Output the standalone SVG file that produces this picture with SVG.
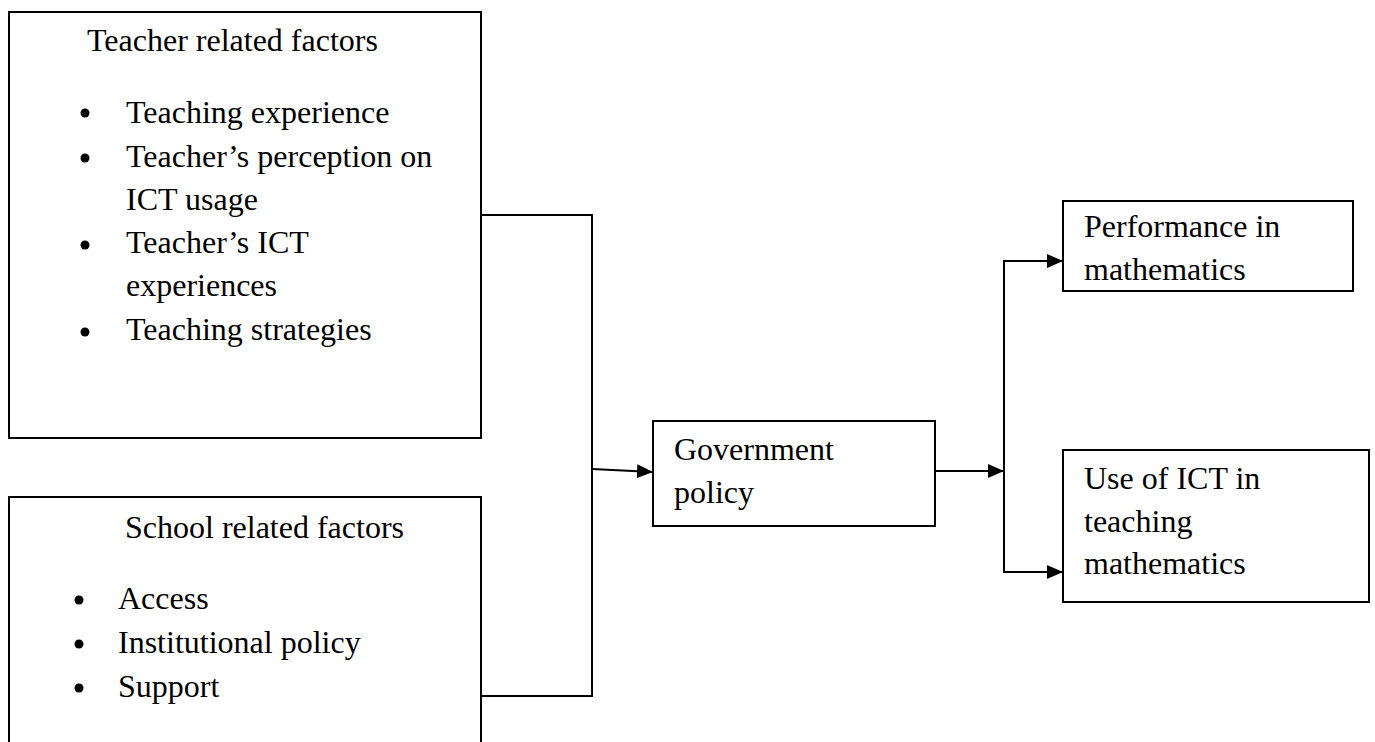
<svg xmlns="http://www.w3.org/2000/svg" width="1375" height="742" viewBox="0 0 1375 742">
<style>
.box{fill:#fff;stroke:#000;stroke-width:2}
.t{font-family:"Liberation Serif","Times New Roman",serif;font-size:32px;fill:#000}
.c{fill:none;stroke:#000;stroke-width:2}
</style>
<defs>
<marker id="ah" markerUnits="userSpaceOnUse" markerWidth="18" markerHeight="16" refX="16" refY="7" orient="auto">
<path d="M0,0 L16,7 L0,14 Z" fill="#000"/>
</marker>
</defs>
<rect width="1375" height="742" fill="#fff"/>
<g id="teacher">
<rect class="box" x="9" y="12" width="472" height="426"/>
<text class="t" x="87" y="51">Teacher related factors</text>
<circle cx="85" cy="113" r="4.5"/><text class="t" x="126" y="123">Teaching experience</text>
<circle cx="85" cy="158" r="4.5"/><text class="t" x="126" y="167">Teacher’s perception on</text>
<text class="t" x="126" y="210">ICT usage</text>
<circle cx="85" cy="245" r="4.5"/><text class="t" x="126" y="253">Teacher’s ICT</text>
<text class="t" x="126" y="296">experiences</text>
<circle cx="85" cy="332" r="4.5"/><text class="t" x="126" y="340">Teaching strategies</text>
</g>
<g id="school">
<rect class="box" x="9" y="497" width="472" height="260"/>
<text class="t" x="125" y="538">School related factors</text>
<circle cx="79" cy="600" r="4.5"/><text class="t" x="118" y="609">Access</text>
<circle cx="79" cy="644" r="4.5"/><text class="t" x="118" y="653">Institutional policy</text>
<circle cx="79" cy="688" r="4.5"/><text class="t" x="118" y="697">Support</text>
</g>
<g id="government">
<rect class="box" x="653" y="421" width="282" height="105"/>
<text class="t" x="674" y="460">Government</text>
<text class="t" x="674" y="503">policy</text>
</g>
<g id="performance">
<rect class="box" x="1063" y="201" width="290" height="90"/>
<text class="t" x="1084" y="237">Performance in</text>
<text class="t" x="1084" y="280">mathematics</text>
</g>
<g id="useict">
<rect class="box" x="1063" y="450" width="306" height="152"/>
<text class="t" x="1084" y="489">Use of ICT in</text>
<text class="t" x="1084" y="532">teaching</text>
<text class="t" x="1084" y="574">mathematics</text>
</g>
<g id="connectors">
<path class="c" d="M481,215 H592 V696 H481"/>
<line class="c" x1="592" y1="469" x2="653" y2="472" marker-end="url(#ah)"/>
<line class="c" x1="935" y1="471" x2="1004" y2="471" marker-end="url(#ah)"/>
<line class="c" x1="1004" y1="260" x2="1004" y2="573"/>
<line class="c" x1="1004" y1="261" x2="1063" y2="261" marker-end="url(#ah)"/>
<line class="c" x1="1004" y1="572" x2="1063" y2="572" marker-end="url(#ah)"/>
</g>
</svg>
